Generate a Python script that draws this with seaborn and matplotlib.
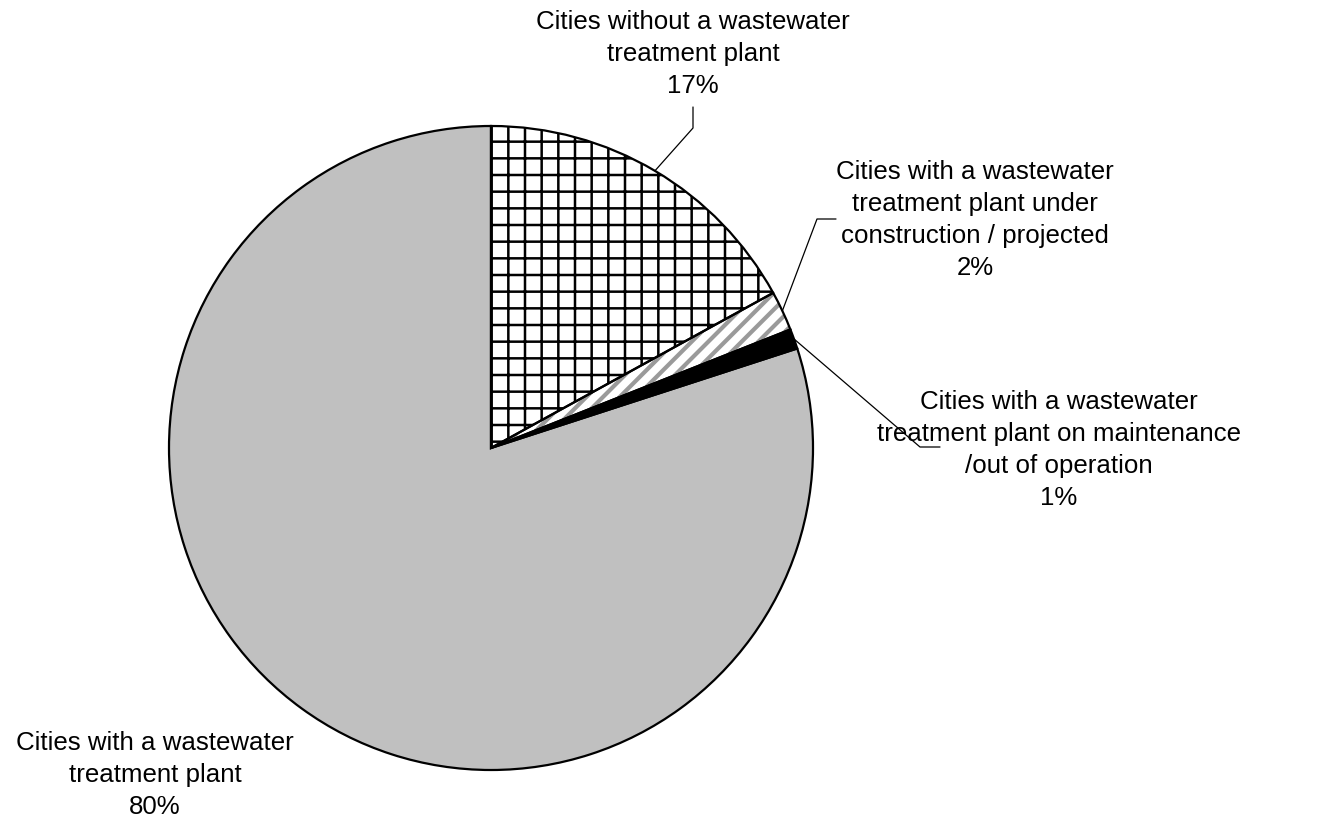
import numpy as np
import matplotlib
matplotlib.use("Agg")
import matplotlib.pyplot as plt
import seaborn as sns

# Share of cities by wastewater treatment status
categories = [
    "Cities without a wastewater\ntreatment plant",
    "Cities with a wastewater\ntreatment plant under\nconstruction / projected",
    "Cities with a wastewater\ntreatment plant on maintenance\n/out of operation",
    "Cities with a wastewater\ntreatment plant",
]
shares = [17, 2, 1, 80]

sns.set_theme(style="white")
plt.rcParams["font.family"] = ["Liberation Sans", "DejaVu Sans"]
plt.rcParams["hatch.linewidth"] = 1.8

W, H = 1327, 825
fig = plt.figure(figsize=(W / 100, H / 100), dpi=100)
ax = fig.add_axes([0, 0, 1, 1])

cx, cy, r = 491, H - 448, 322

# Fills and hatches per slice (hatch colour follows edge colour)
faces = ["white", "white", "black", "#C0C0C0"]
hatches = ["+", "//", None, None]
hatch_cols = ["black", "#9a9a9a", "black", "#C0C0C0"]
hatch_lw = [1.8, 3.0, 1.0, 1.0]

wedges, _ = ax.pie(shares, startangle=90, counterclock=False,
                   center=(cx, cy), radius=r, frame=True)
for w, fc, h, hc, hl in zip(wedges, faces, hatches, hatch_cols, hatch_lw):
    w.set_facecolor(fc)
    w.set_edgecolor(hc)
    w.set_linewidth(0)
    if h:
        w.set_hatch(h)
        if hasattr(w, "set_hatch_linewidth"):
            w.set_hatch_linewidth(hl)

# Black outlines drawn on top of the hatched fills
outline, _ = ax.pie(shares, startangle=90, counterclock=False,
                    center=(cx, cy), radius=r, frame=True,
                    wedgeprops=dict(facecolor="none", edgecolor="black",
                                    linewidth=1.6))
ax.set_xlim(0, W)
ax.set_ylim(0, H)
ax.set_aspect("equal")
ax.axis("off")

fs = 18.6
pct = [f"{v}%" for v in shares]

# label centre (x, y from top) and leader elbow / end points (pixels from top)
label_pos = [(693, 54), (975, 220), (1059, 450), (155, 775)]
leaders = [
    [(693, 128), (693, 107)],
    [(817, 219), (836, 219)],
    [(920, 447), (940, 447)],
    None,
]

for w, cat, p, (lx, ly), lead in zip(wedges, categories, pct, label_pos, leaders):
    ax.text(lx, H - ly, f"{cat}\n{p}", ha="center", va="center",
            fontsize=fs, linespacing=1.43, color="black")
    if lead:
        mid = np.deg2rad((w.theta1 + w.theta2) / 2)
        sx, sy = cx + r * np.cos(mid), cy + r * np.sin(mid)
        xs = [sx] + [q[0] for q in lead]
        ys = [sy] + [H - q[1] for q in lead]
        ax.plot(xs, ys, color="black", lw=0.9)

fig.savefig("out.png", dpi=100, facecolor="white")
